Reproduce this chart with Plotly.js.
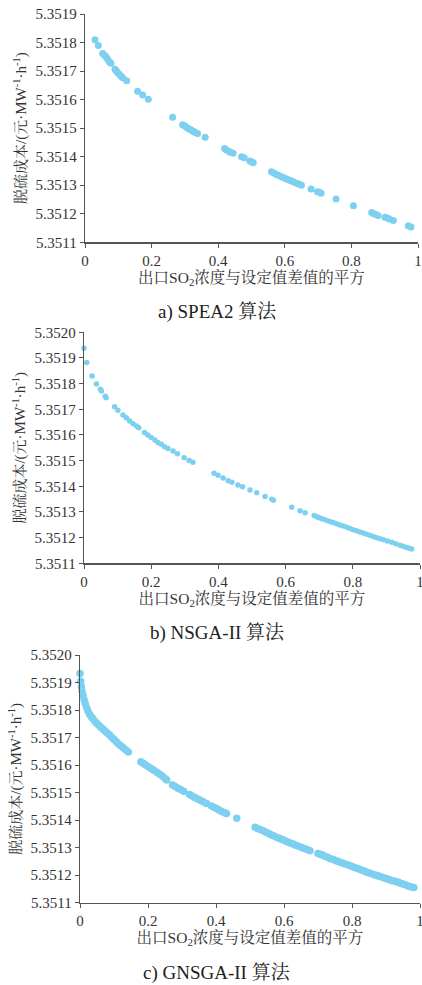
<!DOCTYPE html>
<html>
<head>
<meta charset="utf-8">
<script src="https://cdn.plot.ly/plotly-3.0.1.min.js"></script>
<style>
html,body{margin:0;padding:0;background:#fff;}
#chart{width:422px;height:985px;}
</style>
</head>
<body>
<div id="chart"></div>
<script>
// ---- data ----
const spea2X = [0.030,0.040,0.053,0.058,0.063,0.068,0.073,0.078,0.090,0.094,0.097,0.103,0.108,0.113,0.125,0.158,0.173,0.190,0.263,0.293,0.299,0.305,0.311,0.318,0.323,0.328,0.333,0.338,0.361,0.419,0.425,0.432,0.438,0.445,0.470,0.478,0.495,0.500,0.505,0.560,0.567,0.575,0.582,0.590,0.597,0.605,0.612,0.620,0.627,0.635,0.642,0.650,0.679,0.698,0.704,0.709,0.754,0.806,0.861,0.867,0.874,0.880,0.901,0.908,0.914,0.926,0.971,0.979];
const spea2Y = [5.351810,5.351790,5.351762,5.351756,5.351750,5.351741,5.351733,5.351727,5.351706,5.351701,5.351696,5.351689,5.351683,5.351677,5.351666,5.351629,5.351616,5.351601,5.351538,5.351512,5.351508,5.351503,5.351498,5.351494,5.351490,5.351487,5.351484,5.351481,5.351468,5.351429,5.351423,5.351418,5.351415,5.351412,5.351400,5.351396,5.351385,5.351382,5.351379,5.351347,5.351343,5.351338,5.351334,5.351330,5.351326,5.351322,5.351318,5.351315,5.351311,5.351307,5.351304,5.351300,5.351287,5.351277,5.351275,5.351272,5.351252,5.351228,5.351204,5.351200,5.351197,5.351194,5.351188,5.351185,5.351182,5.351176,5.351158,5.351154];

const nsgaX = [0.000,0.008,0.024,0.037,0.049,0.052,0.063,0.066,0.091,0.101,0.116,0.126,0.136,0.146,0.156,0.163,0.180,0.190,0.200,0.211,0.220,0.230,0.240,0.250,0.265,0.278,0.298,0.313,0.324,0.387,0.399,0.414,0.429,0.440,0.458,0.472,0.494,0.514,0.539,0.559,0.564,0.618,0.643,0.658,
 0.685,0.693,0.700,0.708,0.717,0.725,0.734,0.743,0.752,0.762,0.772,0.782,0.792,0.801,0.811,0.821,0.831,0.841,0.851,0.861,0.871,0.881,0.891,0.903,0.916,0.928,0.940,0.950,0.960,0.968,0.975];
const nsgaY = [5.351938,5.351882,5.351830,5.351799,5.351778,5.351771,5.351751,5.351745,5.351710,5.351696,5.351678,5.351667,5.351654,5.351644,5.351635,5.351628,5.351610,5.351600,5.351590,5.351580,5.351571,5.351564,5.351554,5.351547,5.351538,5.351527,5.351511,5.351501,5.351494,5.351451,5.351443,5.351432,5.351422,5.351416,5.351405,5.351398,5.351386,5.351375,5.351360,5.351350,5.351346,5.351318,5.351305,5.351297,
 5.351286,5.351281,5.351277,5.351274,5.351270,5.351266,5.351262,5.351258,5.351254,5.351249,5.351245,5.351240,5.351236,5.351231,5.351227,5.351222,5.351218,5.351213,5.351209,5.351204,5.351200,5.351196,5.351192,5.351187,5.351182,5.351176,5.351170,5.351166,5.351162,5.351159,5.351156];

const gnsgaX = [0.000,0.002,0.004,0.006,0.009,0.012,0.015,0.019,0.023,0.028,0.033,0.038,0.044,0.050,0.056,0.062,0.068,0.074,0.080,0.087,0.093,0.100,0.107,0.113,0.120,0.127,0.134,0.142,
 0.179,0.186,0.193,0.201,0.209,0.217,0.226,0.234,0.242,0.250,0.255,0.272,0.280,0.288,0.296,0.305,0.322,0.330,0.338,0.346,0.354,0.362,0.372,0.387,0.395,0.403,0.410,0.417,0.425,0.431,0.461,
 0.515,0.522,0.530,0.539,0.547,0.555,0.562,0.569,0.577,0.584,0.591,0.598,0.606,0.613,0.620,0.627,0.635,0.643,0.652,0.660,0.668,0.676,
 0.700,0.706,0.713,0.720,0.728,0.735,0.743,0.750,0.757,0.765,0.772,0.780,0.789,0.797,0.805,0.814,0.821,0.829,0.836,0.843,0.851,0.858,0.866,0.873,0.880,0.887,0.895,0.902,0.909,0.916,0.924,0.931,0.938,0.945,0.952,0.958,0.967,0.975,0.982];
const gnsgaY = [5.351933,5.351905,5.351885,5.351868,5.351853,5.351838,5.351825,5.351810,5.351797,5.351785,5.351776,5.351768,5.351758,5.351751,5.351744,5.351737,5.351730,5.351724,5.351717,5.351709,5.351701,5.351693,5.351685,5.351677,5.351670,5.351663,5.351656,5.351648,
 5.351612,5.351607,5.351600,5.351594,5.351588,5.351581,5.351574,5.351567,5.351560,5.351551,5.351546,5.351528,5.351522,5.351516,5.351511,5.351505,5.351493,5.351488,5.351482,5.351477,5.351472,5.351467,5.351460,5.351451,5.351446,5.351441,5.351436,5.351431,5.351427,5.351424,5.351407,
 5.351374,5.351370,5.351366,5.351361,5.351356,5.351351,5.351347,5.351343,5.351339,5.351335,5.351331,5.351328,5.351323,5.351320,5.351316,5.351313,5.351309,5.351305,5.351301,5.351297,5.351293,5.351289,
 5.351279,5.351276,5.351273,5.351269,5.351265,5.351261,5.351258,5.351254,5.351251,5.351247,5.351244,5.351241,5.351237,5.351233,5.351229,5.351225,5.351222,5.351218,5.351215,5.351211,5.351208,5.351205,5.351202,5.351199,5.351196,5.351193,5.351190,5.351187,5.351184,5.351181,5.351179,5.351176,5.351173,5.351170,5.351167,5.351164,5.351160,5.351157,5.351155];

const xTitle = '出口SO<sub>2</sub>浓度与设定值差值的平方';
const yTitle = '脱硫成本/(元·MW<sup>-1</sup>·h<sup>-1</sup>)';
const captions = ['a) SPEA2 算法', 'b) NSGA-II 算法', 'c) GNSGA-II 算法'];

// ---- layout ----
const W = 422, H = 985;
const FONT = 'Liberation Serif, "Noto Serif CJK SC", "Noto Sans CJK SC", serif';
const MC = '#7dd0ef';
const px = (a, b) => [a / W, b / W];
const py = (top, bot) => [(H - bot) / H, (H - top) / H];

function xa(dom, anchor) {
  return {
    domain: dom, anchor: anchor, range: [0, 1], dtick: 0.2, tick0: 0,
    showgrid: false, zeroline: false, showline: true, linecolor: '#555', linewidth: 1.3,
    ticks: 'outside', ticklen: 4, tickcolor: '#555', tickwidth: 1,
    ticklabeloverflow: 'allow',
    tickfont: {family: FONT, size: 15, color: '#333'},
    title: {text: xTitle, font: {family: FONT, size: 15.5, color: '#333'}, standoff: 2},
    automargin: false
  };
}
function ya(dom, anchor, r) {
  return {
    domain: dom, anchor: anchor, range: r, dtick: 0.0001, tick0: 5.3511, tickformat: '.4f',
    showgrid: false, zeroline: false, showline: true, linecolor: '#555', linewidth: 1.3,
    ticks: 'outside', ticklen: 4, tickcolor: '#555', tickwidth: 1,
    tickfont: {family: FONT, size: 15, color: '#333'},
    title: {text: yTitle, font: {family: FONT, size: 15, color: '#333'}, standoff: 5},
    automargin: false
  };
}

const traces = [
  {x: spea2X, y: spea2Y, xaxis: 'x', yaxis: 'y', mode: 'markers', type: 'scatter', cliponaxis: false,
   marker: {color: MC, size: 7}},
  {x: nsgaX, y: nsgaY, xaxis: 'x2', yaxis: 'y2', mode: 'markers', type: 'scatter', cliponaxis: false,
   marker: {color: MC, size: 5.5}},
  {x: gnsgaX, y: gnsgaY, xaxis: 'x3', yaxis: 'y3', mode: 'markers', type: 'scatter', cliponaxis: false,
   marker: {color: MC, size: 7.5}}
];

const layout = {
  width: W, height: H, margin: {l: 0, r: 0, t: 0, b: 0},
  paper_bgcolor: '#fff', plot_bgcolor: '#fff', showlegend: false,
  font: {family: FONT, color: '#333'},
  xaxis: xa(px(85, 418), 'y'),
  yaxis: ya(py(14, 242.3), 'x', [5.3511, 5.3519]),
  xaxis2: xa(px(84, 420), 'y2'),
  yaxis2: ya(py(332.3, 563.3), 'x2', [5.3511, 5.3520]),
  xaxis3: xa(px(80, 420), 'y3'),
  yaxis3: ya(py(655, 902.7), 'x3', [5.3511, 5.3520]),
  annotations: [
    {text: captions[0], x: 217 / W, y: (H - 312) / H},
    {text: captions[1], x: 217 / W, y: (H - 633) / H},
    {text: captions[2], x: 217 / W, y: (H - 973) / H}
  ].map(a => Object.assign(a, {xref: 'paper', yref: 'paper', showarrow: false,
     xanchor: 'center', yanchor: 'middle', font: {family: FONT, size: 19, color: '#222'}}))
};

Plotly.newPlot('chart', traces, layout, {staticPlot: true, displayModeBar: false});
</script>
</body>
</html>
